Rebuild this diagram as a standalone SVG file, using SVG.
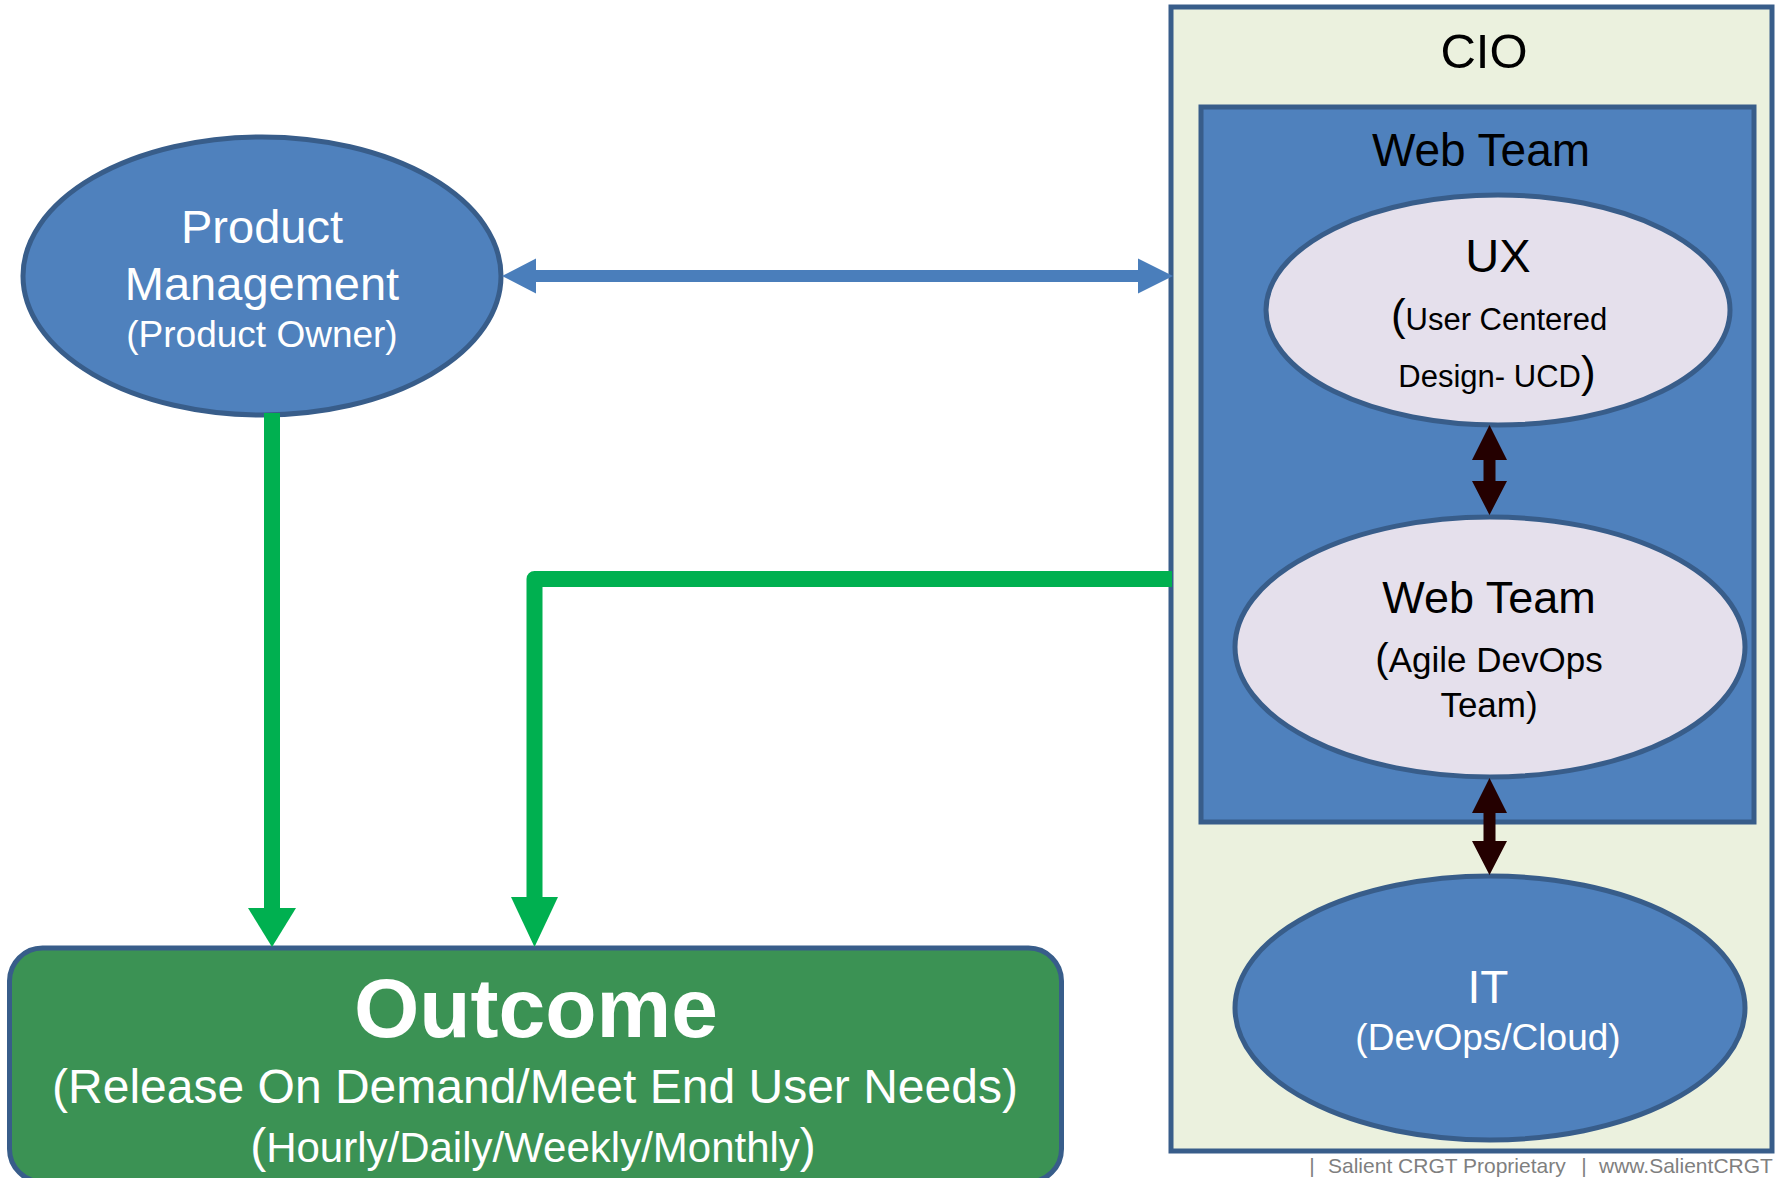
<svg xmlns="http://www.w3.org/2000/svg" width="1776" height="1178" viewBox="0 0 1776 1178">
  <style>
    text { font-family: "Liberation Sans", Arial, sans-serif; text-anchor: middle; }
    .edge { stroke: #385d8a; stroke-width: 5; }
    .blue { fill: #4f81bd; }
    .lav { fill: #e5e0ec; }
    .wt { fill: #ffffff; }
    .bk { fill: #000000; }
    .green { fill: none; stroke: #00b050; stroke-width: 16; stroke-linejoin: round; }
    .ghead { fill: #00b050; }
    .dark { fill: #240000; }
  </style>

  <rect width="1776" height="1178" fill="#ffffff"/>

  <!-- CIO container -->
  <g id="cio">
    <rect x="1171" y="7" width="601" height="1144" fill="#ebf1de" class="edge"/>
    <text x="1484" y="68" font-size="49" class="bk">CIO</text>
  </g>

  <!-- Web Team container -->
  <g id="web-team-group">
    <rect x="1201" y="107" width="553" height="715" class="blue edge"/>
    <text x="1481" y="166" font-size="46" class="bk">Web Team</text>
  </g>

  <!-- UX -->
  <g id="ux">
    <ellipse cx="1498" cy="310" rx="232" ry="115" class="lav edge"/>
    <text x="1498" y="272" font-size="47" class="bk">UX</text>
    <text x="1499" y="330" font-size="31" class="bk"><tspan font-size="44">(</tspan>User Centered</text>
    <text x="1497" y="387" font-size="31" class="bk">Design- UCD<tspan font-size="44">)</tspan></text>
  </g>

  <!-- Web Team (Agile DevOps) -->
  <g id="web-team">
    <ellipse cx="1490" cy="647" rx="255" ry="130" class="lav edge"/>
    <text x="1489" y="613" font-size="45" class="bk">Web Team</text>
    <text x="1489" y="672" font-size="35" class="bk"><tspan font-size="40">(</tspan>Agile DevOps</text>
    <text x="1489" y="717" font-size="35" class="bk">Team)</text>
  </g>

  <!-- IT -->
  <g id="it">
    <ellipse cx="1490" cy="1008" rx="255" ry="132" class="blue edge"/>
    <text x="1488" y="1003" font-size="46" class="wt">IT</text>
    <text x="1488" y="1050" font-size="37" class="wt">(DevOps/Cloud)</text>
  </g>

  <!-- Product Management -->
  <g id="product-management">
    <ellipse cx="262" cy="276" rx="239" ry="139" class="blue edge"/>
    <text x="262" y="243" font-size="47" class="wt">Product</text>
    <text x="262" y="300" font-size="47" class="wt">Management</text>
    <text x="262" y="347" font-size="37" class="wt">(Product Owner)</text>
  </g>

  <!-- Outcome -->
  <g id="outcome">
    <rect x="9.5" y="948" width="1052" height="234" rx="33" ry="33" fill="#3b9254" class="edge"/>
    <text x="536" y="1037" font-size="84" font-weight="bold" class="wt">Outcome</text>
    <text x="535" y="1103" font-size="48" class="wt">(Release On Demand/Meet End User Needs)</text>
    <text x="533" y="1162" font-size="42" class="wt"><tspan font-size="48">(</tspan>Hourly/Daily/Weekly/Monthly<tspan font-size="48">)</tspan></text>
  </g>

  <!-- Connectors -->
  <g id="connectors">
    <!-- Product Management <-> CIO -->
    <polygon fill="#4a7ebb" points="502,276 536,258.5 536,270 1138,270 1138,258.5 1173,276 1138,293.5 1138,282 536,282 536,293.5"/>
    <!-- Product Management -> Outcome -->
    <line x1="272" y1="413" x2="272" y2="910" class="green"/>
    <polygon class="ghead" points="248,908 296,908 272,947"/>
    <!-- CIO -> Outcome -->
    <path d="M1172,579 H534.5 V900" class="green"/>
    <polygon class="ghead" points="511,897 558,897 534.5,947"/>
    <!-- UX <-> Web Team -->
    <polygon class="dark" points="1489.5,425 1507,460 1495.5,460 1495.5,481 1507,481 1489.5,515 1472,481 1483.5,481 1483.5,460 1472,460"/>
    <!-- Web Team <-> IT -->
    <polygon class="dark" points="1489.5,778 1507,813 1495.5,813 1495.5,841 1507,841 1489.5,875 1472,841 1483.5,841 1483.5,813 1472,813"/>
  </g>

  <!-- Footer -->
  <g id="footer" fill="#7f7f7f" font-size="21">
    <text x="1312" y="1173">|</text>
    <text x="1328" y="1173" style="text-anchor:start">Salient CRGT Proprietary</text>
    <text x="1584" y="1173">|</text>
    <text x="1599" y="1173" style="text-anchor:start">www.SalientCRGT</text>
  </g>
</svg>
